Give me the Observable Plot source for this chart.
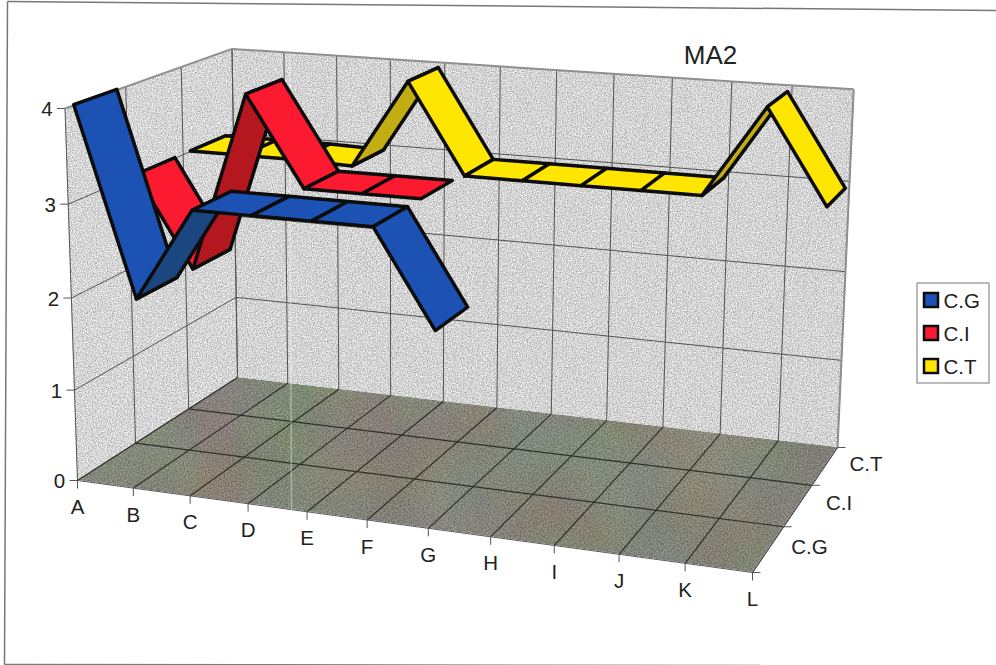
<!DOCTYPE html>
<html>
<head>
<meta charset="utf-8">
<script src="https://cdn.jsdelivr.net/npm/d3@7"></script>
<script src="https://cdn.jsdelivr.net/npm/@observablehq/plot@0.6"></script>
<style>
html,body{margin:0;padding:0;background:#fff;}
svg{display:block;}
</style>
</head>
<body>
<div id="chart"></div>
<script>
// ---- data ----
const categories = ["A","B","C","D","E","F","G","H","I","J","K","L"];
const seriesNames = ["C.G","C.I","C.T"];
const valuesCG = [4,2,3,3,3,3,2];
const valuesCI = [3,2,3.97,3,3,3];
const valuesCT = [3,3,3,2.98,3.97,2.97,2.97,2.97,2.97,2.97,3.96,2.96];
const valueTicks = [0,1,2,3,4];
const title = "MA2";

// ---- styles ----
const topColors  = {"C.G":"#1c52b4","C.I":"#fb1a30","C.T":"#ffe600"};
const sideColors = {"C.G":"#1c4680","C.I":"#b5171f","C.T":"#c2ae12"};

// ---- the 3-D frame of the chart: a perspective camera fixed by the corners of the box ----
const floorCorners = [[77,480],[752,572],[837,447],[237,377]]; // front-left, front-right, back-right, back-left
const vanishing = [400,10105];
const topFrontLeftY = 108;
const maxValue = 4;

const [[x0,y0],[x1,y1],[x2,y2],[x3,y3]] = floorCorners;
const dx1=x1-x2, dx2=x3-x2, sx=x0-x1+x2-x3, dy1=y1-y2, dy2=y3-y2, sy=y0-y1+y2-y3;
const den=dx1*dy2-dx2*dy1;
const g=(sx*dy2-dx2*sy)/den, h=(dx1*sy-sx*dy1)/den;
const a=x1-x0+g*x1, b=x3-x0+h*x3, d=y1-y0+g*y1, e=y3-y0+h*y3;
const k=(topFrontLeftY-y0)/(vanishing[1]-topFrontLeftY)/maxValue;
const nCat=categories.length-1;
function project(cat,depth,val){
  const u=cat/nCat, v=depth, w=g*u+h*v+1+k*val;
  return [(a*u+b*v+x0+k*val*vanishing[0])/w,(d*u+e*v+y0+k*val*vanishing[1])/w];
}
const pt=(cat,depth,val,dx=0,dy=0)=>{const p=project(cat,depth,val);return {x:p[0]+dx,y:p[1]+dy};};
const depthCuts=[0,1/3,2/3,1];
const catIdx=categories.map((_,i)=>i);

// ---- derived tables ----
function face(list,fn){ // band between two edges, for Plot.area
  return list.map(t=>{const [p,q]=fn(t);return {x1:p.x,y1:p.y,x2:q.x,y2:q.y};});
}
const wallLeft=face([0,1],z=>[pt(0,z,0),pt(0,z,maxValue)]);
const wallBack=face([0,nCat],c=>[pt(c,1,0),pt(c,1,maxValue)]);
const floor=face([0,nCat],c=>[pt(c,0,0),pt(c,1,0)]);

const wallLines=[], floorLines=[];
const seg=(list,p,q)=>list.push({x1:p.x,y1:p.y,x2:q.x,y2:q.y});
for(const c of catIdx){
  seg(wallLines,pt(c,1,0),pt(c,1,maxValue));
  seg(floorLines,pt(c,0,0),pt(c,1,0));
}
for(const z of depthCuts){
  seg(wallLines,pt(0,z,0),pt(0,z,maxValue));
  if(z>0&&z<1) seg(floorLines,pt(0,z,0),pt(nCat,z,0));
}
for(const v of valueTicks.slice(1,-1)){
  seg(wallLines,pt(0,0,v),pt(0,1,v));
  seg(wallLines,pt(0,1,v),pt(nCat,1,v));
}
const frameEdges=[[pt(0,0,maxValue),pt(0,1,maxValue)],[pt(0,1,maxValue),pt(nCat,1,maxValue)],[pt(nCat,1,maxValue),pt(nCat,1,0)]]
  .map(([p,q])=>({x1:p.x,y1:p.y,x2:q.x,y2:q.y}));
const floorEdges=[[pt(0,0,0),pt(nCat,0,0)],[pt(nCat,0,0),pt(nCat,1,0)]]
  .map(([p,q])=>({x1:p.x,y1:p.y,x2:q.x,y2:q.y}));

const ticks=[];
for(const v of valueTicks){const p=pt(0,0,v);ticks.push({x1:p.x-8,y1:p.y,x2:p.x,y2:p.y});}
for(const c of catIdx){const p=pt(c,0,0);ticks.push({x1:p.x,y1:p.y,x2:p.x,y2:p.y+8});}
for(const z of depthCuts){const p=pt(nCat,z,0);ticks.push({x1:p.x,y1:p.y,x2:p.x+8,y2:p.y});}

const labels=[
  ...valueTicks.map(v=>({...pt(0,0,v,-18,1),t:String(v)})),
  ...categories.map((c,i)=>({...pt(i,0,0,0,27),t:c})),
  ...seriesNames.map((s,i)=>({...pt(nCat,(i+.5)/3,0,41,-2),t:s}))
];

// ribbons
const ribbonHalf=0.118;
const seriesValues=[valuesCG,valuesCI,valuesCT];
const ribbonRows=[];
[2,1,0].forEach(si=>{
  const vals=seriesValues[si], name=seriesNames[si], zc=(si+.5)/3;
  for(let i=0;i<vals.length-1;i++){
    const color=vals[i+1]>vals[i]+0.5?sideColors[name]:topColors[name];
    for(const j of [i,i+1]){
      const p=pt(j,zc-ribbonHalf,vals[j]), q=pt(j,zc+ribbonHalf,vals[j]);
      ribbonRows.push({x1:p.x,y1:p.y,x2:q.x,y2:q.y,seg:name+i,color});
    }
  }
});

// legend
const legendBox={x1:917,x2:989,y1:283,y2:383};
const legendRows=seriesNames.map((s,i)=>({name:s,color:topColors[s],x1:924,x2:938,y1:293+33*i,y2:307+33*i,tx:943,ty:301+33*i}));

// scan frame and scan streak
const pageFrame=[{x1:7,y1:1,x2:996,y2:10},{x1:7,y1:1,x2:4,y2:664},{x1:4,y1:664,x2:760,y2:665}];
const scanStreak=[{x1:289,y1:55,x2:291,y2:510}];

const link=(rows,o)=>Plot.link(rows,{x1:"x1",y1:"y1",x2:"x2",y2:"y2",curve:"linear",markerEnd:null,...o});
const withFilter=id=>function(index,scales,values,dims,ctx,next){
  const el=next(index,scales,values,dims,ctx);
  el.setAttribute("filter",`url(#${id})`);
  return el;
};
const band=(rows,fill,filter)=>Plot.area(rows,{x1:"x1",y1:"y1",x2:"x2",y2:"y2",fill,render:withFilter(filter)});

const chart=Plot.plot({
  width:996,height:665,margin:0,
  style:{background:"#fff",fontFamily:"'Liberation Sans',Arial,sans-serif",overflow:"hidden"},
  x:{domain:[0,996],range:[0,996],axis:null},
  y:{domain:[0,665],range:[0,665],axis:null},
  color:{type:"identity"},
  marks:[
    band(wallLeft,"#f8f8f8","speckle"),
    band(wallBack,"#f6f6f6","speckle"),
    band(floor,"#a8a899","blotch"),
    link(wallLines,{stroke:"#50554f",strokeWidth:1}),
    link(floorLines,{stroke:"#2e302c",strokeWidth:1.2}),
    link(frameEdges,{stroke:"#8f8f8f",strokeWidth:2}),
    link(floorEdges,{stroke:"#5a5a5a",strokeWidth:1}),
    link(scanStreak,{stroke:"#fff",strokeOpacity:0.35,strokeWidth:1.5}),
    link(ticks,{stroke:"#555",strokeWidth:1}),
    Plot.text(labels,{x:"x",y:"y",text:"t",fontSize:20.5,fill:"#222"}),
    Plot.area(ribbonRows,{x1:"x1",y1:"y1",x2:"x2",y2:"y2",z:"seg",fill:"color",stroke:"#0c0c0c",strokeWidth:3.5,strokeLinejoin:"round"}),
    Plot.text([title],{x:()=>710,y:()=>55,text:d=>d,fontSize:26,fill:"#222"}),
    Plot.rect([legendBox],{x1:"x1",x2:"x2",y1:"y1",y2:"y2",fill:"#fff",stroke:"#777",strokeWidth:1}),
    Plot.rect(legendRows,{x1:"x1",x2:"x2",y1:"y1",y2:"y2",fill:"color",stroke:"#0c0c0c",strokeWidth:2.5}),
    Plot.text(legendRows,{x:"tx",y:"ty",text:"name",textAnchor:"start",fontSize:20.5,fill:"#222"}),
    link(pageFrame,{stroke:"#777",strokeWidth:1.5})
  ]
});
const defs=d3.select(chart).insert("defs",":first-child");
defs.html(`<filter id="speckle" x="0" y="0" width="100%" height="100%" color-interpolation-filters="sRGB">
<feTurbulence type="fractalNoise" baseFrequency="0.8" numOctaves="2" seed="4" result="n"/>
<feColorMatrix in="n" type="matrix" values="0.6 0 0 0 0.56 0.6 0 0 0 0.56 0.6 0 0 0 0.56 0 0 0 0 1" result="g"/>
<feBlend in="SourceGraphic" in2="g" mode="multiply" result="b"/>
<feComposite in="b" in2="SourceGraphic" operator="in"/>
</filter>
<filter id="blotch" x="0" y="0" width="100%" height="100%" color-interpolation-filters="sRGB">
<feTurbulence type="fractalNoise" baseFrequency="0.7" numOctaves="2" seed="9" result="n"/>
<feColorMatrix in="n" type="matrix" values="0.6 0 0 0 0.52 0.6 0 0 0 0.52 0.6 0 0 0 0.52 0 0 0 0 1" result="g"/>
<feTurbulence type="fractalNoise" baseFrequency="0.012" numOctaves="2" seed="21" result="c"/>
<feColorMatrix in="c" type="matrix" values="0.2 0 0 0 0.86 0 0.2 0 0 0.86 0 0 0.2 0 0.86 0 0 0 0 1" result="h"/>
<feBlend in="SourceGraphic" in2="g" mode="multiply" result="b1"/>
<feBlend in="b1" in2="h" mode="multiply" result="b2"/>
<feComposite in="b2" in2="SourceGraphic" operator="in"/>
</filter>`);
document.getElementById("chart").append(chart);
</script>
</body>
</html>
